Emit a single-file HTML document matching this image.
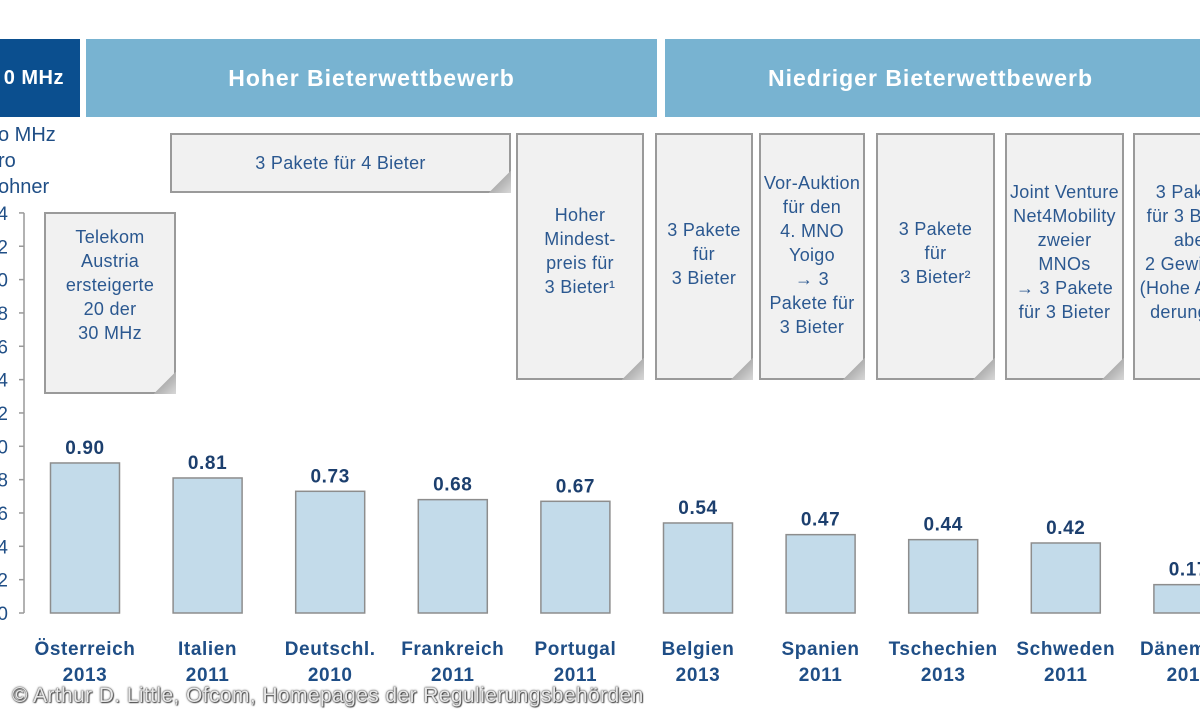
<!DOCTYPE html>
<html><head><meta charset="utf-8">
<style>
body{margin:0;width:1200px;height:720px;overflow:hidden;background:#fff;font-family:"Liberation Sans",Arial,sans-serif;position:relative}
.abs{position:absolute}
.hdr{position:absolute;top:39px;height:78px;display:flex;align-items:center;justify-content:center;color:#fff;font-weight:bold;font-size:23px;letter-spacing:1px;box-sizing:border-box}
.note{position:absolute;background:#f1f1f1;border:2px solid #9a9a9a;box-sizing:border-box;color:#2b5890;font-size:18px;letter-spacing:0.3px;line-height:24px;text-align:center;display:flex;align-items:flex-start;justify-content:center;white-space:nowrap;clip-path:polygon(0 0,100% 0,100% calc(100% - 22px),calc(100% - 22px) 100%,0 100%)}
.fold{position:absolute;width:22px;height:22px;background:linear-gradient(135deg,transparent 0 48%,#b0b0b0 50%,#d8d8d8 100%)}
.ylab{position:absolute;color:#1f4e86;font-size:20px;}
.foot{position:absolute;left:12px;top:684px;font-size:21px;letter-spacing:0.4px;color:#e8e8e8;text-shadow:0 0 1px #333,0 0 2px #444,1px 1px 1px #555}
</style></head><body>
<div class="hdr" style="left:-20px;width:100px;background:#0b4f8f;justify-content:flex-end;padding-right:16px;font-size:20px;letter-spacing:0.5px">0 MHz</div>
<div class="hdr" style="left:86px;width:571px;background:#78b3d1">Hoher Bieterwettbewerb</div>
<div class="hdr" style="left:665px;width:545px;background:#78b3d1;padding-right:14px">Niedriger Bieterwettbewerb</div>

<div class="ylab" style="left:-2px;top:122px;line-height:26px">o MHz<br>ro<br>ohner</div>

<div class="note" style="left:170px;top:133px;width:341px;height:60px;align-items:center">3 Pakete für 4 Bieter</div>
<div class="fold" style="left:489px;top:171px"></div>
<div class="note" style="left:44px;top:212px;width:132px;height:182px;padding-top:11px">Telekom<br>Austria<br>ersteigerte<br>20 der<br>30 MHz</div>
<div class="fold" style="left:154px;top:372px"></div>
<div class="note" style="left:516px;top:133px;width:128px;height:247px;padding-top:68px">Hoher<br>Mindest-<br>preis für<br>3 Bieter¹</div>
<div class="fold" style="left:622px;top:358px"></div>
<div class="note" style="left:655px;top:133px;width:98px;height:247px;padding-top:83px">3 Pakete<br>für<br>3 Bieter</div>
<div class="fold" style="left:731px;top:358px"></div>
<div class="note" style="left:759px;top:133px;width:106px;height:247px;padding-top:36px">Vor-Auktion<br>für den<br>4. MNO<br>Yoigo<br>→ 3<br>Pakete für<br>3 Bieter</div>
<div class="fold" style="left:843px;top:358px"></div>
<div class="note" style="left:876px;top:133px;width:119px;height:247px;padding-top:82px">3 Pakete<br>für<br>3 Bieter²</div>
<div class="fold" style="left:973px;top:358px"></div>
<div class="note" style="left:1005px;top:133px;width:119px;height:247px;padding-top:45px">Joint Venture<br>Net4Mobility<br>zweier<br>MNOs<br>→ 3 Pakete<br>für 3 Bieter</div>
<div class="fold" style="left:1102px;top:358px"></div>
<div class="note" style="left:1133px;top:133px;width:119px;height:247px;padding-top:45px">3 Pakete<br>für 3 Bieter<br>aber<br>2 Gewinner<br>(Hohe Anfor-<br>derungen)</div>

<svg class="abs" style="left:0;top:0" width="1200" height="720" id="chart"></svg>

<div class="foot">© Arthur D. Little, Ofcom, Homepages der Regulierungsbehörden</div>

<script>
const categories=["Österreich","Italien","Deutschl.","Frankreich","Portugal","Belgien","Spanien","Tschechien","Schweden","Dänemark"];
const years=["2013","2011","2010","2011","2011","2013","2011","2013","2011","2011"];
const values=[0.90,0.81,0.73,0.68,0.67,0.54,0.47,0.44,0.42,0.17];
const valueLabels=["0.90","0.81","0.73","0.68","0.67","0.54","0.47","0.44","0.42","0.17"];
const ticks=[0,0.2,0.4,0.6,0.8,1.0,1.2,1.4,1.6,1.8,2.0,2.2,2.4];
const tickLabels=["0","2","4","6","8","0","2","4","6","8","0","2","4"];

const NS="http://www.w3.org/2000/svg";
const svg=document.getElementById('chart');
const y0=613,pxPerUnit=166.7;
const yScale=v=>y0-v*pxPerUnit;
const xCenter=i=>85+i*122.6;
const bw=69;
function mk(t,a){const e=document.createElementNS(NS,t);for(const k in a)e.setAttribute(k,a[k]);svg.appendChild(e);return e;}

const axis=mk('line',{x1:24,x2:24,y1:yScale(2.4),y2:y0,stroke:'#999','stroke-width':1.5});


ticks.forEach((t,i)=>{
  const tk=mk('line',{x1:19,x2:24,y1:yScale(t),y2:yScale(t),stroke:'#999','stroke-width':1.5});
  
  
  const tl=mk('text',{x:8,y:yScale(t)+7,'text-anchor':'end','font-size':19,fill:'#1f4e86','font-family':'Liberation Sans, sans-serif'});
  tl.textContent=tickLabels[i];
  
  
});
const txt={'font-family':'Liberation Sans, sans-serif','font-weight':'bold','text-anchor':'middle','letter-spacing':'0.6'};
categories.forEach((c,i)=>{
  const cx=xCenter(i);
  const b=mk('rect',{x:cx-bw/2,y:yScale(values[i]),width:bw,height:values[i]*pxPerUnit,fill:'#c3dbea',stroke:'#8d8d8d','stroke-width':1.5});
  
  
  const v=mk('text',Object.assign({x:cx,y:yScale(values[i])-9,'font-size':19,fill:'#1c3f6e'},txt));
  v.textContent=valueLabels[i];
  
  
  const l1=mk('text',Object.assign({x:cx,y:655,'font-size':19,fill:'#1f4e86'},txt));
  l1.textContent=c;
  
  
  const l2=mk('text',Object.assign({x:cx,y:681,'font-size':19,fill:'#1f4e86'},txt));
  l2.textContent=years[i];
  
  
});
</script>
</body></html>
